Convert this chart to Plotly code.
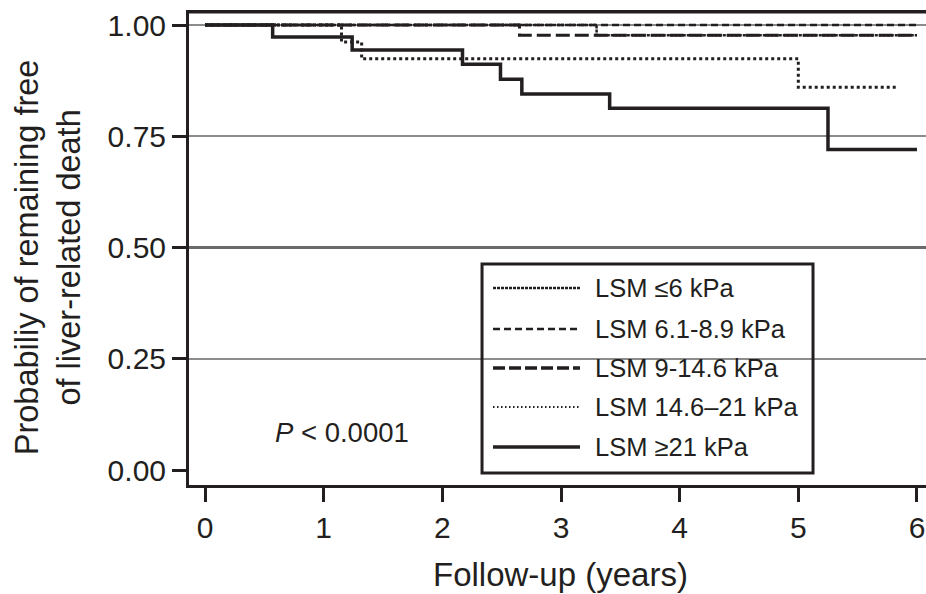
import plotly.graph_objects as go

# ---- data ----
series_names = ["LSM ≤6 kPa", "LSM 6.1-8.9 kPa", "LSM 9-14.6 kPa", "LSM 14.6–21 kPa", "LSM ≥21 kPa"]

t_le6 = [0, 3.30, 6.0]
s_le6 = [1.0, 0.977, 0.977]

t_6_9 = [0, 6.0]
s_6_9 = [1.0, 1.0]

t_9_14 = [0, 2.65, 6.0]
s_9_14 = [1.0, 0.977, 0.977]

t_14_21 = [0, 1.15, 1.32, 5.0, 5.83]
s_14_21 = [1.0, 0.962, 0.924, 0.86, 0.86]

t_ge21 = [0, 0.57, 1.24, 2.17, 2.49, 2.67, 3.41, 5.25, 6.0]
s_ge21 = [1.0, 0.973, 0.944, 0.912, 0.878, 0.845, 0.813, 0.72, 0.72]

x_ticks = [0, 1, 2, 3, 4, 5, 6]
y_ticks = [0.0, 0.25, 0.50, 0.75, 1.00]
y_tick_labels = ["0.00", "0.25", "0.50", "0.75", "1.00"]
grid_light = [0.25, 0.75, 1.00]
grid_dark = [0.50]

times = [t_le6, t_6_9, t_9_14, t_14_21, t_ge21]
survs = [s_le6, s_6_9, s_9_14, s_14_21, s_ge21]

INK = "#231f20"
styles = [
    dict(dash="3px,1px", width=2.5),
    dict(dash="7px,4px", width=2.5),
    dict(dash="14px,5px", width=3),
    dict(dash="3px,3px", width=3),
    dict(dash="solid", width=3.5),
]
legend_styles = [
    dict(dash="3px,1px", width=2.5),
    dict(dash="7px,4px", width=2.5),
    dict(dash="12px,4px", width=3.5),
    dict(dash="1.5px,2.5px", width=2),
    dict(dash="solid", width=3.5),
]

FONT = "Liberation Sans, Arial, Helvetica, sans-serif"

# plot area: x 189..926 px, y 13..485 px
PLOT_H = 472.0

def py(px_y):
    return (485.0 - px_y) / PLOT_H

fig = go.Figure()
for name, t, s, st in zip(series_names, times, survs, styles):
    fig.add_trace(go.Scatter(
        x=t, y=s, mode="lines", name=name, line_shape="hv",
        line=dict(color=INK, width=st["width"], dash=st["dash"]),
        showlegend=False, hoverinfo="x+y+name",
    ))

# manual legend (paper coordinates)
leg_px = [288, 329, 368, 407, 447]
shapes = []
annotations = []
for name, st, yp in zip(series_names, legend_styles, leg_px):
    yy = py(yp)
    shapes.append(dict(type="line", xref="paper", yref="paper",
                       x0=0.4125, x1=0.5305, y0=yy, y1=yy,
                       line=dict(color=INK, width=st["width"], dash=st["dash"])))
    annotations.append(dict(xref="paper", yref="paper", x=0.548, y=yy,
                            xanchor="left", yanchor="middle", showarrow=False,
                            text=name, font=dict(size=25.5, color=INK, family=FONT)))
shapes.append(dict(type="rect", xref="paper", yref="paper",
                   x0=0.3976, x1=0.8467, y0=py(473), y1=py(264),
                   line=dict(color=INK, width=3), fillcolor="rgba(0,0,0,0)", layer="above"))
# top border of the frame
shapes.append(dict(type="rect", xref="paper", yref="paper", x0=-0.002, x1=1.0,
                   y0=py(13.5), y1=py(10.5),
                   line=dict(width=0), fillcolor=INK, layer="above"))

annotations.append(dict(xref="paper", yref="paper", x=0.114, y=py(432),
                        xanchor="left", yanchor="middle", showarrow=False,
                        text="<i>P</i> < 0.0001", font=dict(size=27.5, color=INK, family=FONT)))
annotations.append(dict(xref="paper", yref="paper", x=0.5047, y=py(574),
                        xanchor="center", yanchor="middle", showarrow=False,
                        text="Follow-up (years)", font=dict(size=33, color=INK, family=FONT)))
annotations.append(dict(xref="paper", yref="paper", x=-0.1910, y=py(257),
                        xanchor="center", yanchor="middle", showarrow=False, textangle=-90,
                        text="Probabiliy of remaining free<br>of liver-related death",
                        font=dict(size=32.5, color=INK, family=FONT)))

YR = [-0.0337, 1.027]
fig.update_layout(
    width=926, height=594,
    margin=dict(l=189, r=0, t=13, b=109),
    paper_bgcolor="white", plot_bgcolor="white",
    font=dict(family=FONT, color=INK),
    shapes=shapes, annotations=annotations,
    xaxis=dict(range=[-0.135, 6.076], tickvals=x_ticks, ticks="outside", ticklen=14,
               tickwidth=3, tickcolor=INK, showline=True, linewidth=3, linecolor=INK,
               mirror=True, showgrid=False, zeroline=False,
               tickfont=dict(size=30, color=INK)),
    yaxis=dict(range=YR, tickvals=y_ticks, ticktext=y_tick_labels, ticks="outside",
               ticklen=14, tickwidth=3, tickcolor=INK, showline=True, linewidth=3,
               linecolor=INK, showgrid=False, zeroline=False,
               tickfont=dict(size=30, color=INK)),
    yaxis2=dict(range=YR, overlaying="y", tickvals=grid_light, showticklabels=False,
                showgrid=True, gridcolor="#8c8c8c", gridwidth=2, zeroline=False,
                showline=False, ticks=""),
    yaxis3=dict(range=YR, overlaying="y", tickvals=grid_dark, showticklabels=False,
                showgrid=True, gridcolor="#6a6a6a", gridwidth=2.5, zeroline=False,
                showline=False, ticks=""),
)
# dummy invisible traces to activate overlay axes
fig.add_trace(go.Scatter(x=[None], y=[None], yaxis="y2", showlegend=False, hoverinfo="skip"))
fig.add_trace(go.Scatter(x=[None], y=[None], yaxis="y3", showlegend=False, hoverinfo="skip"))

fig.write_html("out.html", config={"displayModeBar": False},
               post_script="document.body.style.margin='0px';document.body.style.overflow='hidden';")
